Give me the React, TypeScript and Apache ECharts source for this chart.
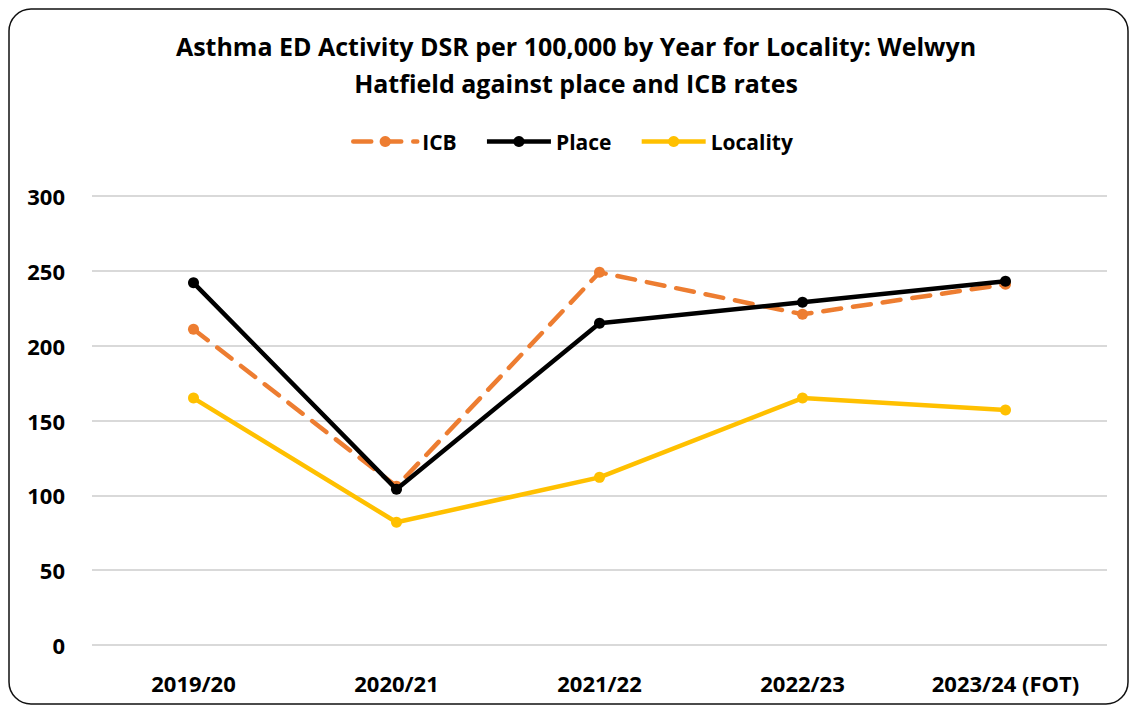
import React, { useEffect, useRef } from "react";
import * as echarts from "echarts";

const categories = ["2019/20", "2020/21", "2021/22", "2022/23", "2023/24 (FOT)"];
const icbValues = [211, 106, 249, 221, 241];
const placeValues = [242, 104, 215, 229, 243];
const localityValues = [165, 82, 112, 165, 157];
const yTicks = { min: 0, max: 300, interval: 50 };

const FONT = "'Open Sans', sans-serif";

export default function App() {
  const ref = useRef<HTMLDivElement>(null);
  useEffect(() => {
    document.body.style.margin = "0";
    const chart = echarts.init(ref.current!, undefined, { renderer: "svg" });
    chart.setOption({
      animation: false,
      backgroundColor: "#fff",
      textStyle: { fontFamily: FONT },
      graphic: [
        {
          type: "rect",
          shape: { x: 9, y: 9, width: 1119, height: 695, r: 22 },
          style: { fill: "none", stroke: "#111", lineWidth: 1.5 },
          silent: true,
        },
      ],
      title: {
        text: "Asthma ED Activity DSR per 100,000 by Year for Locality: Welwyn\nHatfield against place and ICB rates",
        left: 571,
        textAlign: "center",
        top: 22,
        textStyle: {
          fontFamily: FONT,
          fontSize: 25,
          fontWeight: "bold",
          color: "#000",
          lineHeight: 37,
        },
      },
      legend: {
        top: 126,
        left: 346,
        itemWidth: 64,
        itemHeight: 14,
        itemGap: 28,
        lineStyle: { width: 4.5 },
        textStyle: { fontFamily: FONT, fontSize: 21, fontWeight: "bold", color: "#000" },
        data: ["ICB", "Place", "Locality"],
      },
      grid: { left: 92, right: 23, top: 196, bottom: 62 },
      xAxis: {
        type: "category",
        data: categories,
        boundaryGap: true,
        axisLine: { show: false },
        axisTick: { show: false },
        axisLabel: {
          margin: 27,
          fontFamily: FONT,
          fontSize: 22,
          fontWeight: "bold",
          color: "#000",
        },
      },
      yAxis: {
        type: "value",
        min: yTicks.min,
        max: yTicks.max,
        interval: yTicks.interval,
        axisLine: { show: false },
        axisTick: { show: false },
        splitLine: { lineStyle: { color: "#d9d9d9", width: 2 } },
        axisLabel: {
          margin: 27,
          fontFamily: FONT,
          fontSize: 22,
          fontWeight: "bold",
          color: "#000",
        },
      },
      series: [
        {
          name: "ICB",
          type: "line",
          data: icbValues,
          symbol: "circle",
          symbolSize: 11,
          itemStyle: { color: "#ED7D31" },
          lineStyle: { color: "#ED7D31", width: 4.5, type: [18, 12], cap: "round" },
          z: 2,
        },
        {
          name: "Place",
          type: "line",
          data: placeValues,
          symbol: "circle",
          symbolSize: 11,
          itemStyle: { color: "#000" },
          lineStyle: { color: "#000", width: 4.5 },
          z: 3,
        },
        {
          name: "Locality",
          type: "line",
          data: localityValues,
          symbol: "circle",
          symbolSize: 11,
          itemStyle: { color: "#FFC000" },
          lineStyle: { color: "#FFC000", width: 4.5 },
          z: 2,
        },
      ],
    });
    return () => chart.dispose();
  }, []);
  return <div ref={ref} style={{ width: 1130, height: 707 }} />;
}
